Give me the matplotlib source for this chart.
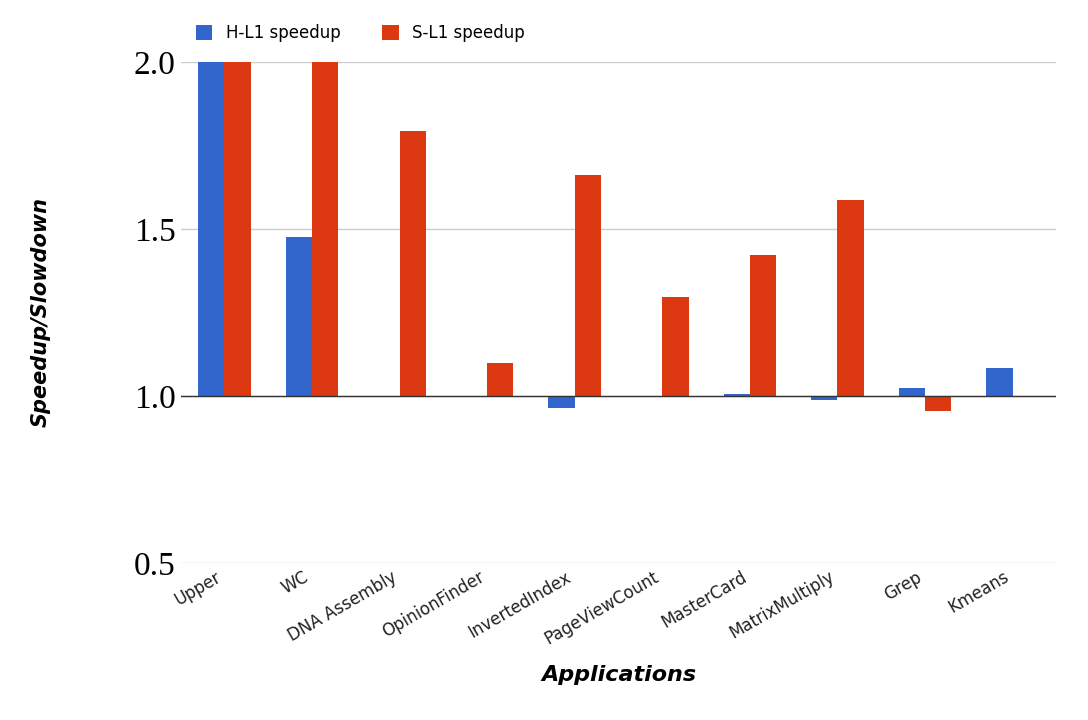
import matplotlib
matplotlib.use('Agg')
import matplotlib.pyplot as plt
import numpy as np

apps = ['Upper', 'WC', 'DNA Assembly', 'OpinionFinder', 'InvertedIndex',
        'PageViewCount', 'MasterCard', 'MatrixMultiply', 'Grep', 'Kmeans']
h_l1 = [2.0, 1.475, 1.0, 1.0, 0.964, 1.0, 1.006, 0.988, 1.024, 1.084]
s_l1 = [2.0, 2.0, 1.794, 1.099, 1.663, 1.296, 1.421, 1.588, 0.955, 1.0]

fig = plt.figure(figsize=(10.88, 7.2), dpi=100)
ax = fig.add_axes([0.166, 0.218, 0.805, 0.696])

x = np.arange(len(apps))
w = 0.3
base = 1.0
ax.bar(x - w / 2, np.array(h_l1) - base, w, bottom=base, color='#3366cc',
       label='H-L1 speedup', zorder=3)
ax.bar(x + w / 2, np.array(s_l1) - base, w, bottom=base, color='#dc3912',
       label='S-L1 speedup', zorder=3)

ax.set_xlim(-0.5, len(apps) - 0.5)
ax.set_ylim(0.5, 2.0)
ax.set_yticks([0.5, 1.0, 1.5, 2.0])
ax.set_yticklabels(['0.5', '1.0', '1.5', '2.0'], family='Liberation Serif', fontsize=24)
ax.yaxis.grid(True, color='#cccccc', linewidth=1, zorder=0)
ax.axhline(1.0, color='#333333', linewidth=1, zorder=4)
ax.set_xticks(x)
ax.set_xticklabels(apps, rotation=30, ha='right', fontsize=12, color='#222222')
ax.tick_params(length=0)
for s in ax.spines.values():
    s.set_visible(False)

ax.set_xlabel('Applications', fontsize=16, fontweight='bold', style='italic', labelpad=12)
ax.set_ylabel('Speedup/Slowdown', fontsize=15, fontweight='bold', style='italic', labelpad=60)

ax.legend(loc='lower left', bbox_to_anchor=(0.0, 1.01), ncol=2, frameon=False,
          fontsize=12, handlelength=1, handleheight=1, columnspacing=2.5)

fig.savefig('out.png')
